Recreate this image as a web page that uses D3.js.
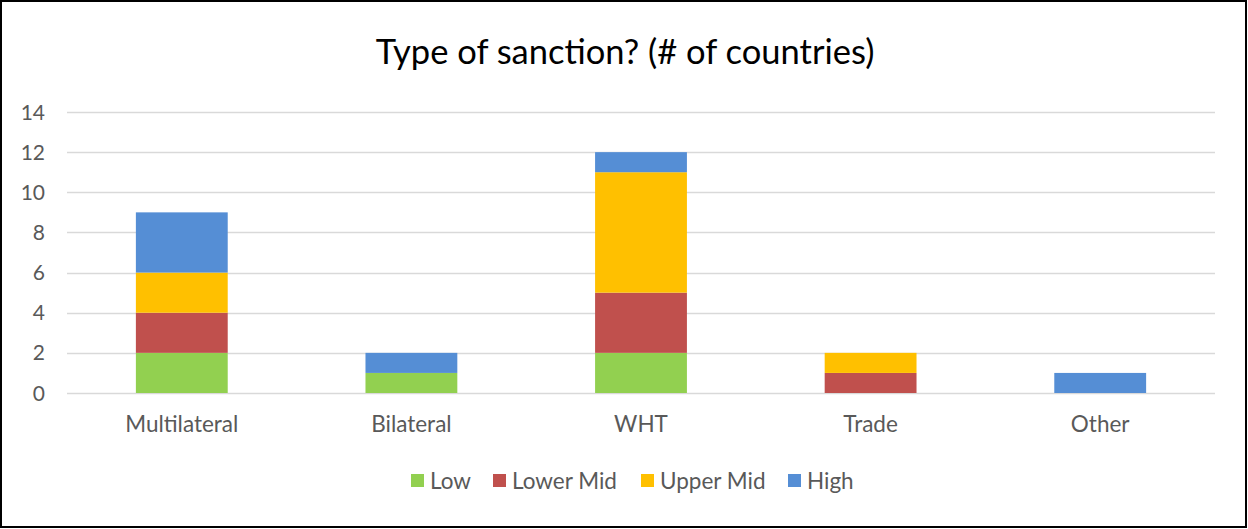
<!DOCTYPE html>
<html>
<head>
<meta charset="utf-8">
<title>Type of sanction</title>
<style>
  body { margin: 0; background: #fff; }
  text { font-family: Lato, "Open Sans", sans-serif; fill: #595959; }
</style>
</head>
<body>
<div id="chart"></div>
<script src="https://d3js.org/d3.v7.min.js"></script>
<script>
// data
var categories = ['Multilateral', 'Bilateral', 'WHT', 'Trade', 'Other'];
var seriesNames = ['Low', 'Lower Mid', 'Upper Mid', 'High'];
var low      = [2, 1, 2, 0, 0];
var lowerMid = [2, 0, 3, 1, 0];
var upperMid = [2, 0, 6, 1, 0];
var high     = [3, 1, 1, 0, 1];
var yTicks = [0, 2, 4, 6, 8, 10, 12, 14];
var colors = ['#92D050', '#C0504D', '#FFC000', '#558ED5'];

var width = 1248, height = 529;

var svg = d3.select('#chart').append('svg')
  .attr('width', width)
  .attr('height', height);

svg.append('rect')
  .attr('x', 1).attr('y', 1)
  .attr('width', width - 3).attr('height', height - 3)
  .attr('fill', '#fff')
  .attr('stroke', '#000')
  .attr('stroke-width', 2);

svg.append('text')
  .attr('x', 625).attr('y', 64)
  .attr('text-anchor', 'middle')
  .attr('font-size', 34.5)
  .style('fill', '#000')
  .text('Type of sanction? (# of countries)');

var x = d3.scaleBand().domain(categories).range([67, 1215]).paddingInner(0.6).paddingOuter(0.3);
var y = d3.scaleLinear().domain([0, 14]).range([393, 112]);

// gridlines
svg.selectAll('.grid')
  .data(yTicks)
  .enter()
  .append('line')
  .attr('x1', 67).attr('x2', 1215)
  .attr('y1', function(d){ return Math.round(y(d)) + 0.5; })
  .attr('y2', function(d){ return Math.round(y(d)) + 0.5; })
  .attr('stroke', '#d9d9d9')
  .attr('stroke-width', 1.3);

svg.selectAll('.ylab')
  .data(yTicks)
  .enter()
  .append('text')
  .attr('x', 45)
  .attr('y', function(d){ return y(d) + 7.5; })
  .attr('text-anchor', 'end')
  .attr('font-size', 21)
  .text(function(d){ return d; });

var table = categories.map(function(c, i){
  return { cat: c, 'Low': low[i], 'Lower Mid': lowerMid[i], 'Upper Mid': upperMid[i], 'High': high[i] };
});
var stacked = d3.stack().keys(seriesNames)(table);

svg.selectAll('.series')
  .data(stacked)
  .enter()
  .append('g')
  .attr('fill', function(d, i){ return colors[i]; })
  .selectAll('rect')
  .data(function(d){ return d; })
  .enter()
  .append('rect')
  .attr('x', function(d){ return x(d.data.cat); })
  .attr('width', x.bandwidth())
  .attr('y', function(d){ return y(d[1]); })
  .attr('height', function(d){ return y(d[0]) - y(d[1]); });

svg.selectAll('.xlab')
  .data(categories)
  .enter()
  .append('text')
  .attr('x', function(d){ return x(d) + x.bandwidth() / 2; })
  .attr('y', 432)
  .attr('text-anchor', 'middle')
  .attr('font-size', 22.5)
  .text(function(d){ return d; });

// legend
var legendX = [411, 493, 641, 788];
var legend = svg.selectAll('.legend')
  .data(seriesNames)
  .enter()
  .append('g')
  .attr('transform', function(d, i){ return 'translate(' + legendX[i] + ',474)'; });

legend.append('rect')
  .attr('width', 13).attr('height', 13)
  .attr('fill', function(d, i){ return colors[i]; });

legend.append('text')
  .attr('x', 19).attr('y', 15)
  .attr('font-size', 22.5)
  .text(function(d){ return d; });
</script>
</body>
</html>
